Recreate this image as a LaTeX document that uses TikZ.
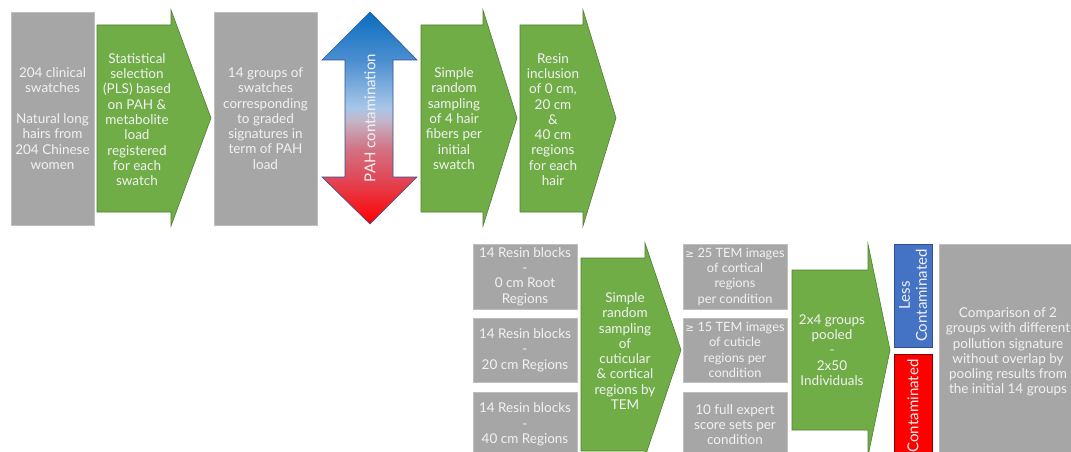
\documentclass[tikz,border=0pt]{standalone}
\usepackage{fontspec}
\setmainfont{Lato}
\newfontfamily\symfont{DejaVu Sans}
\usepackage{tikz}
\definecolor{boxgray}{HTML}{A6A6A6}
\definecolor{boxedge}{HTML}{BFBFBF}
\definecolor{arrowgreen}{HTML}{70AD47}
\definecolor{arrowedge}{HTML}{507E32}
\definecolor{lessblue}{HTML}{4472C4}
\definecolor{lessedge}{HTML}{2F528F}
\definecolor{morered}{HTML}{FF0000}
\definecolor{moreedge}{HTML}{800000}
\definecolor{textwhite}{HTML}{F2F2F2}
\definecolor{pahA}{HTML}{E04A5A}
\definecolor{pahB}{HTML}{D27080}
\definecolor{pahC}{HTML}{C4B6CA}
\definecolor{pahD}{HTML}{A6C6E8}
\definecolor{pahE}{HTML}{4C8ED0}
\definecolor{pahF}{HTML}{0A6EC0}
\pgfdeclareverticalshading{pahshade}{100bp}{color(0bp)=(morered); color(25bp)=(morered);
  color(36bp)=(pahA); color(42.5bp)=(pahB); color(49.5bp)=(pahC); color(52.5bp)=(pahD);
  color(63.5bp)=(pahE); color(75bp)=(pahF); color(100bp)=(pahF)}
\newcommand{\geqsign}{{\symfont\fontsize{10.5}{15.3}\selectfont ≥}}
\tikzset{
  steptext/.style={text=textwhite, align=center, inner sep=0pt, font=\fontsize{13.5}{15.3}\selectfont},
  graybox/.style={steptext, draw=boxedge, fill=boxgray, line width=0.6pt},
  narrowbox/.style={graybox, font=\fontsize{12.8}{15.3}\selectfont},
  greenarrow/.style={fill=arrowgreen, draw=arrowedge, line width=0.6pt},
  sidetext/.style={steptext, rotate=90, font=\fontsize{15}{17}\selectfont}
}
\begin{document}
\begin{tikzpicture}[x=1pt,y=1pt]
\useasboundingbox (0,0) rectangle (1071,-452);
\clip (0,0) rectangle (1071,-452);
\fill [white] (0,0) rectangle (1071,-452);
\node [graybox, minimum width=83pt, minimum height=213pt] (clinical) at (52.5,-118.5)
  {204 clinical\\swatches\\[15.3pt]Natural long\\hairs from\\204 Chinese\\women};
\draw [greenarrow] (97,-25) -- (171,-25) -- (171,-10) -- (211,-118) -- (171,-226) -- (171,-212) -- (97,-212) -- cycle;
\node [steptext] (selection) at (137,-119.5)
  {Statistical\\selection\\(PLS) based\\on PAH \&\\metabolite\\load\\registered\\for each\\swatch};
\node [graybox, minimum width=103pt, minimum height=213pt] (groups) at (265.5,-118.5)
  {14 groups of\\swatches\\corresponding\\to graded\\signatures in\\term of PAH\\load};
\shade [shading=pahshade] (370,-12) -- (417,-60) -- (393,-60) -- (393,-177) -- (417,-177) -- (370,-224)
  -- (322,-177) -- (345,-177) -- (345,-60) -- (322,-60) -- cycle;
\draw [lessedge, line width=0.6pt] (370,-12) -- (417,-60) -- (393,-60) -- (393,-177) -- (417,-177) -- (370,-224)
  -- (322,-177) -- (345,-177) -- (345,-60) -- (322,-60) -- cycle;
\node [sidetext] (pah) at (370,-118) {PAH contamination};
\draw [greenarrow] (421,-25) -- (483,-25) -- (483,-10) -- (517,-118) -- (483,-226) -- (483,-212) -- (421,-212) -- cycle;
\node [steptext] (fibers) at (454,-118.5)
  {Simple\\random\\sampling\\of 4 hair\\fibers per\\initial\\swatch};
\draw [greenarrow] (520,-25) -- (583,-25) -- (583,-10) -- (616,-118) -- (583,-226) -- (583,-212) -- (520,-212) -- cycle;
\node [steptext] (inclusion) at (553,-119.5)
  {Resin\\inclusion\\of 0 cm,\\20 cm\\\&\\40 cm\\regions\\for each\\hair};
\node [graybox, minimum width=104pt, minimum height=65pt] (root) at (525,-276.5)
  {14 Resin blocks\\-\\0 cm Root\\Regions};
\node [graybox, minimum width=104pt, minimum height=64pt] (mid) at (525,-350)
  {14 Resin blocks\\-\\20 cm Regions};
\node [graybox, minimum width=104pt, minimum height=65pt] (tip) at (525,-424.5)
  {14 Resin blocks\\-\\40 cm Regions};
\draw [greenarrow] (581,-258) -- (645,-258) -- (645,-243) -- (681,-350) -- (645,-457) -- (645,-451) -- (581,-451) -- cycle;
\node [steptext] (tem) at (625,-351)
  {Simple\\random\\sampling\\of\\cuticular\\\& cortical\\regions by\\TEM};
\node [narrowbox, minimum width=104pt, minimum height=65pt] (cortex) at (735,-276.5)
  {\geqsign{} 25 TEM images\\of cortical\\regions\\per condition};
\node [narrowbox, minimum width=104pt, minimum height=64pt] (cuticle) at (735,-350)
  {\geqsign{} 15 TEM images\\of cuticle\\regions per\\condition};
\node [graybox, minimum width=104pt, minimum height=65pt] (scores) at (735,-424.5)
  {10 full expert\\score sets per\\condition};
\draw [greenarrow] (792,-270) -- (868,-270) -- (868,-244) -- (890,-350) -- (868,-456) -- (868,-430) -- (792,-430) -- cycle;
\node [steptext] (pooled) at (832,-350)
  {2x4 groups\\pooled\\-\\2x50\\Individuals};
\node [sidetext, fill=lessblue, draw=lessedge, line width=0.6pt, minimum width=103pt, minimum height=38pt] (less) at (913,-295.5)
  {Less\\Contaminated};
\node [sidetext, fill=morered, draw=moreedge, line width=0.8pt, minimum width=104pt, minimum height=38pt] (more) at (913,-406)
  {Contaminated};
\node [graybox, minimum width=138pt, minimum height=216pt] (compare) at (1008,-352)
  {Comparison of 2\\groups with different\\pollution signature\\without overlap by\\pooling results from\\the initial 14 groups};
\end{tikzpicture}
\end{document}
